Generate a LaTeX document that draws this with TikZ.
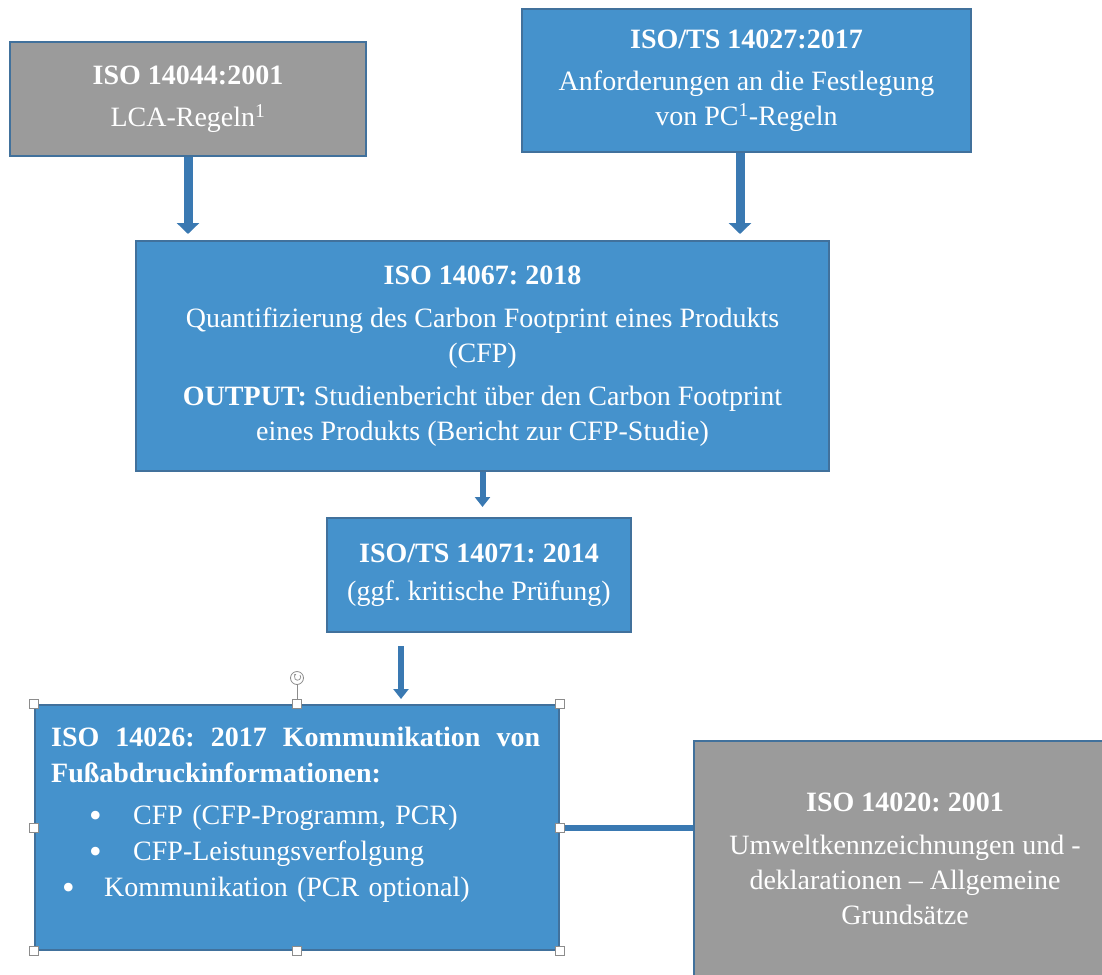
\documentclass[tikz,border=0pt]{standalone}
\usepackage{fontspec}
\setmainfont{Liberation Serif}
\usetikzlibrary{arrows.meta}
\definecolor{boxblue}{HTML}{4592CC}
\definecolor{boxgray}{HTML}{9B9B9B}
\definecolor{boxline}{HTML}{41719C}
\definecolor{arrowblue}{HTML}{3A79B2}
\definecolor{handlegray}{HTML}{8C8C8C}
\newcommand{\bigdot}{\raisebox{-3pt}{\fontsize{36}{36}\selectfont\textbullet}}
\frenchspacing

\begin{document}
\begin{tikzpicture}[
  x=1pt, y=-1pt,
  box/.style={draw=boxline, line width=2pt, text=white, align=center,
    inner sep=0pt, font=\fontsize{28}{35}\selectfont},
  bluebox/.style={box, fill=boxblue},
  graybox/.style={box, fill=boxgray},
  bigarrow/.style={draw=arrowblue, line width=9pt,
    -{Triangle[width=22pt,length=11pt]}},
  smallarrow/.style={draw=arrowblue, line width=6pt,
    -{Triangle[width=15pt,length=10pt]}},
  handle/.style={draw=handlegray, fill=white, line width=0.8pt}
  ]
\useasboundingbox (0,0) rectangle (1102,974);
\clip (0,0) rectangle (1102,974);
% standards
\node [graybox, minimum width=356pt, minimum height=114pt] (iso14044) at (188,99)
  {\bfseries ISO 14044:2001\\[7pt] LCA-Regeln\textsuperscript{1}};
\node [bluebox, minimum width=449pt, minimum height=143pt] (iso14027) at (746.5,80.5)
  {\bfseries ISO/TS 14027:2017\\[7pt] Anforderungen an die Festlegung\\ von PC\textsuperscript{1}-Regeln};
\node [bluebox, minimum width=693pt, minimum height=230pt] (iso14067) at (482.5,356)
  {\bfseries ISO 14067: 2018\\[8pt]
   Quantifizierung des Carbon Footprint eines Produkts\\ (CFP)\\[8pt]
   {\bfseries OUTPUT:} Studienbericht über den Carbon Footprint\\
   eines Produkts (Bericht zur CFP-Studie)};
\node [bluebox, minimum width=304pt, minimum height=114pt] (iso14071) at (479,575)
  {\bfseries ISO/TS 14071: 2014\\[3pt] (ggf. kritische Prüfung)};
\node [bluebox, minimum width=524pt, minimum height=245pt] (iso14026) at (297,827.5) {};
\node [text=white, align=left, inner sep=0pt, anchor=north west, text width=489pt,
  font=\fontsize{28}{36}\selectfont] (iso14026text) at ([shift={(17,23)}]iso14026.north west)
  {\makebox[489pt]{\bfseries ISO\hfill 14026:\hfill 2017\hfill Kommunikation\hfill von}\\
   {\bfseries Fußabdruckinformationen:}\\[6pt]
   \mdseries\hspace*{38pt}\makebox[44pt][l]{\bigdot}CFP (CFP-Programm, PCR)\\
   \mdseries\hspace*{38pt}\makebox[44pt][l]{\bigdot}CFP-Leistungsverfolgung\\
   \mdseries\hspace*{11pt}\makebox[42pt][l]{\bigdot}Kommunikation (PCR optional)};
\node [graybox, minimum width=422pt, minimum height=236pt] (iso14020) at (905,859)
  {\bfseries ISO 14020: 2001\\[8pt] Umweltkennzeichnungen und -\\
   deklarationen -- Allgemeine\\ Grundsätze};
% connectors
\coordinate (tsfoot) at ([xshift=-6.5pt]iso14027.south);
\coordinate (reviewfoot) at ([xshift=-78pt]iso14071.south);
\draw [bigarrow, shorten >=6pt] (iso14044.south) -- (iso14044.south |- iso14067.north);
\draw [bigarrow, shorten >=6pt] (tsfoot) -- (tsfoot |- iso14067.north);
\draw [smallarrow, shorten >=10pt] (iso14067.south) -- (iso14067.south |- iso14071.north);
\draw [smallarrow, shorten <=13pt, shorten >=5pt] (reviewfoot) -- (reviewfoot |- iso14026.north);
\draw [arrowblue, line width=6pt] (iso14026.east) -- (iso14026.east -| iso14020.west);
% selection handles
\draw [handlegray, line width=0.8pt] ([shift={(0,-4.5)}]iso14026.north) -- ([shift={(0,-19.5)}]iso14026.north);
\draw [handle] ([shift={(0,-26)}]iso14026.north) circle (6.5);
\draw [handlegray, line width=0.7pt, -{Stealth[length=2.5pt]}] ([shift={(3,-29)}]iso14026.north) arc (-40:250:3.2);
\foreach \a in {north west,north,north east,east,south east,south,south west,west}
  \draw [handle] ([shift={(-4.5,-4.5)}]iso14026.\a) rectangle ++(9,9);
\end{tikzpicture}
\end{document}
